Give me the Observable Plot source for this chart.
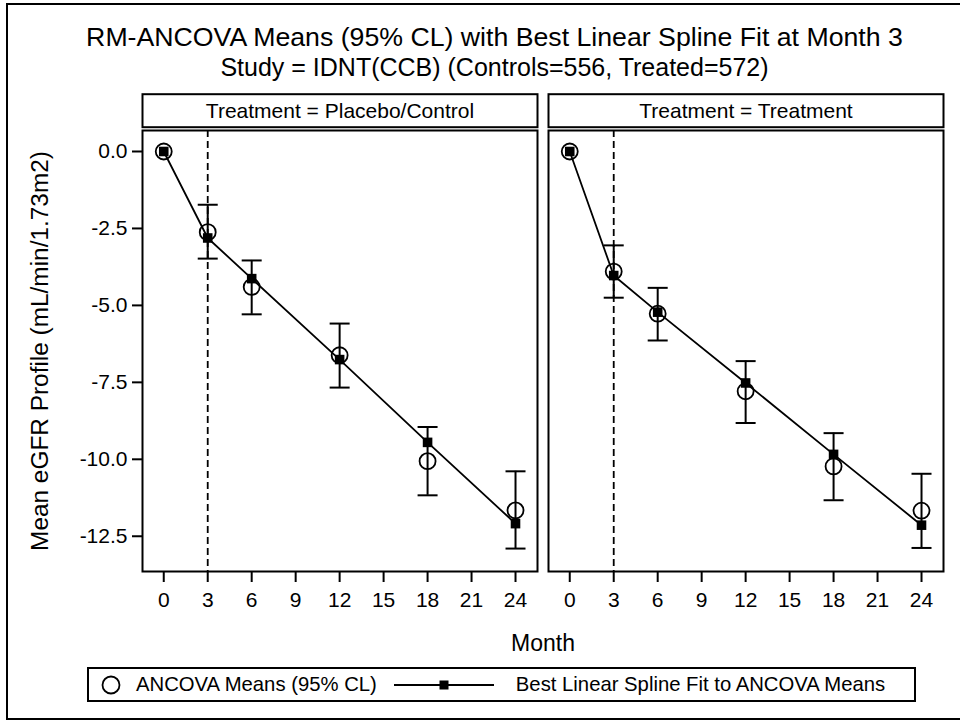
<!DOCTYPE html>
<html><head><meta charset="utf-8">
<script src="https://cdn.jsdelivr.net/npm/d3@7"></script>
<script src="https://cdn.jsdelivr.net/npm/@observablehq/plot@0.6"></script>
<style>
body{margin:0;background:#fff;font-family:"Liberation Sans",Arial,sans-serif;color:#000;}
#wrap{position:relative;width:960px;height:723px;overflow:hidden;background:#fff;}
#border{position:absolute;left:6px;top:3px;width:1000px;height:717px;box-sizing:border-box;border:2px solid #000;}
.ttl{position:absolute;left:0;width:989px;text-align:center;white-space:nowrap;line-height:1;}
#title{top:24px;font-size:26.7px;}
#subtitle{top:55px;font-size:25px;}
#chart{position:absolute;left:0;top:80px;}
#legend{position:absolute;left:87px;top:667px;width:829px;height:35px;box-sizing:border-box;border:2px solid #000;display:flex;align-items:center;font-size:20.3px;white-space:nowrap;}
#legend svg{display:block;flex:none;}
</style>
</head><body>
<div id="wrap">
  <div id="border"></div>
  <div class="ttl" id="title">RM-ANCOVA Means (95% CL) with Best Linear Spline Fit at Month 3</div>
  <div class="ttl" id="subtitle">Study = IDNT(CCB) (Controls=556, Treated=572)</div>
  <div id="chart"></div>
  <div id="legend"></div>
</div>
<script>
// ---- data ----
const treatments = ["Placebo/Control", "Treatment"];
const months = [0, 3, 6, 12, 18, 24];
const placeboMean  = [0, -2.62, -4.40, -6.62, -10.06, -11.66];
const placeboLower = [null, -3.48, -5.29, -7.67, -11.17, -12.90];
const placeboUpper = [null, -1.73, -3.54, -5.59, -8.95, -10.39];
const placeboFit   = [0, -2.81, -4.13, -6.76, -9.45, -12.09];
const treatedMean  = [0, -3.90, -5.27, -7.79, -10.23, -11.67];
const treatedLower = [null, -4.75, -6.14, -8.82, -11.33, -12.88];
const treatedUpper = [null, -3.05, -4.43, -6.81, -9.15, -10.47];
const treatedFit   = [0, -4.03, -5.22, -7.52, -9.84, -12.14];
const knotMonth = 3;
const xTicks = [0, 3, 6, 9, 12, 15, 18, 21, 24];
const yTicks = [0, -2.5, -5, -7.5, -10, -12.5];
const legendLabels = ["ANCOVA Means (95% CL)", "Best Linear Spline Fit to ANCOVA Means"];

const series = [
  {mean: placeboMean, lower: placeboLower, upper: placeboUpper, fit: placeboFit},
  {mean: treatedMean, lower: treatedLower, upper: treatedUpper, fit: treatedFit}
];
const rows = treatments.flatMap((t, i) => months.map((m, j) => ({
  treatment: t, month: m,
  mean: series[i].mean[j], lower: series[i].lower[j], upper: series[i].upper[j], fit: series[i].fit[j]
})));
const ciRows = rows.filter(d => d.lower != null);

// ---- layout ----
const W = 960, H = 580, mT = 50, mB = 89, mL = 141, mR = 16;
const plotH = H - mT - mB;
const capSymbol = {draw(ctx) { ctx.moveTo(-10, 0); ctx.lineTo(10, 0); }};

const chart = Plot.plot({
  width: W, height: H,
  marginTop: mT, marginBottom: mB, marginLeft: mL, marginRight: mR,
  style: {fontFamily: "'Liberation Sans', Arial, sans-serif", fontSize: "21px", color: "#000", background: "transparent", overflow: "visible"},
  fx: {domain: treatments, padding: 0.026, axis: null, label: null},
  x: {domain: [-1.45, 25.5]},
  y: {domain: [-13.645, 0.682]},
  marks: [
    Plot.frame({stroke: "#000", strokeWidth: 2}),
    Plot.frame({stroke: "#000", strokeWidth: 2, insetTop: -36.3, insetBottom: plotH + 3.3}),
    Plot.text(treatments, {fx: d => d, text: d => `Treatment = ${d}`, frameAnchor: "top", lineAnchor: "middle", dy: -19.5, fontSize: 21}),
    Plot.ruleX([knotMonth], {stroke: "#000", strokeWidth: 1.8, strokeDasharray: "7,4"}),
    Plot.ruleX(ciRows, {fx: "treatment", x: "month", y1: "lower", y2: "upper", stroke: "#000", strokeWidth: 2}),
    Plot.dot(ciRows, {fx: "treatment", x: "month", y: "lower", symbol: capSymbol, stroke: "#000", strokeWidth: 2, fill: "none"}),
    Plot.dot(ciRows, {fx: "treatment", x: "month", y: "upper", symbol: capSymbol, stroke: "#000", strokeWidth: 2, fill: "none"}),
    Plot.line(rows, {fx: "treatment", x: "month", y: "fit", z: "treatment", stroke: "#000", strokeWidth: 1.8}),
    Plot.dot(rows, {fx: "treatment", x: "month", y: "fit", symbol: "square", r: 5.4, fill: "#000", stroke: "none"}),
    Plot.dot(rows, {fx: "treatment", x: "month", y: "mean", r: 8, fill: "none", stroke: "#000", strokeWidth: 1.8}),
    Plot.axisX({ticks: xTicks, tickFormat: d => String(d), tickSize: 11, tickPadding: 10, stroke: "#000", strokeWidth: 2,
      label: "Month", labelAnchor: "center", labelArrow: "none", labelOffset: 79}),
    Plot.axisY({ticks: yTicks, tickFormat: d => d.toFixed(1), tickSize: 10, tickPadding: 5, stroke: "#000", strokeWidth: 2,
      label: "Mean eGFR Profile (mL/min/1.73m2)", labelAnchor: "center", labelArrow: "none", labelOffset: 112})
  ]
});
document.getElementById("chart").appendChild(chart);
d3.select(chart).selectAll('g[aria-label="x-axis label"] text').attr("font-size", 23);
d3.select(chart).selectAll('g[aria-label="y-axis label"] text').attr("font-size", 24.4);

// ---- legend ----
const lg = d3.select("#legend");
const s1 = lg.append("svg").attr("width", 20).attr("height", 20).style("margin-left", "12px");
s1.append("circle").attr("cx", 10).attr("cy", 10).attr("r", 8.5).attr("fill", "none").attr("stroke", "#000").attr("stroke-width", 1.8);
lg.append("span").text(legendLabels[0]).style("margin-left", "15px");
const s2 = lg.append("svg").attr("width", 100).attr("height", 20).style("margin-left", "17px");
s2.append("line").attr("x1", 0).attr("x2", 100).attr("y1", 10).attr("y2", 10).attr("stroke", "#000").attr("stroke-width", 1.8);
s2.append("rect").attr("x", 45.5).attr("y", 5.5).attr("width", 9).attr("height", 9).attr("fill", "#000");
lg.append("span").text(legendLabels[1]).style("margin-left", "22px");
</script>
</body></html>
